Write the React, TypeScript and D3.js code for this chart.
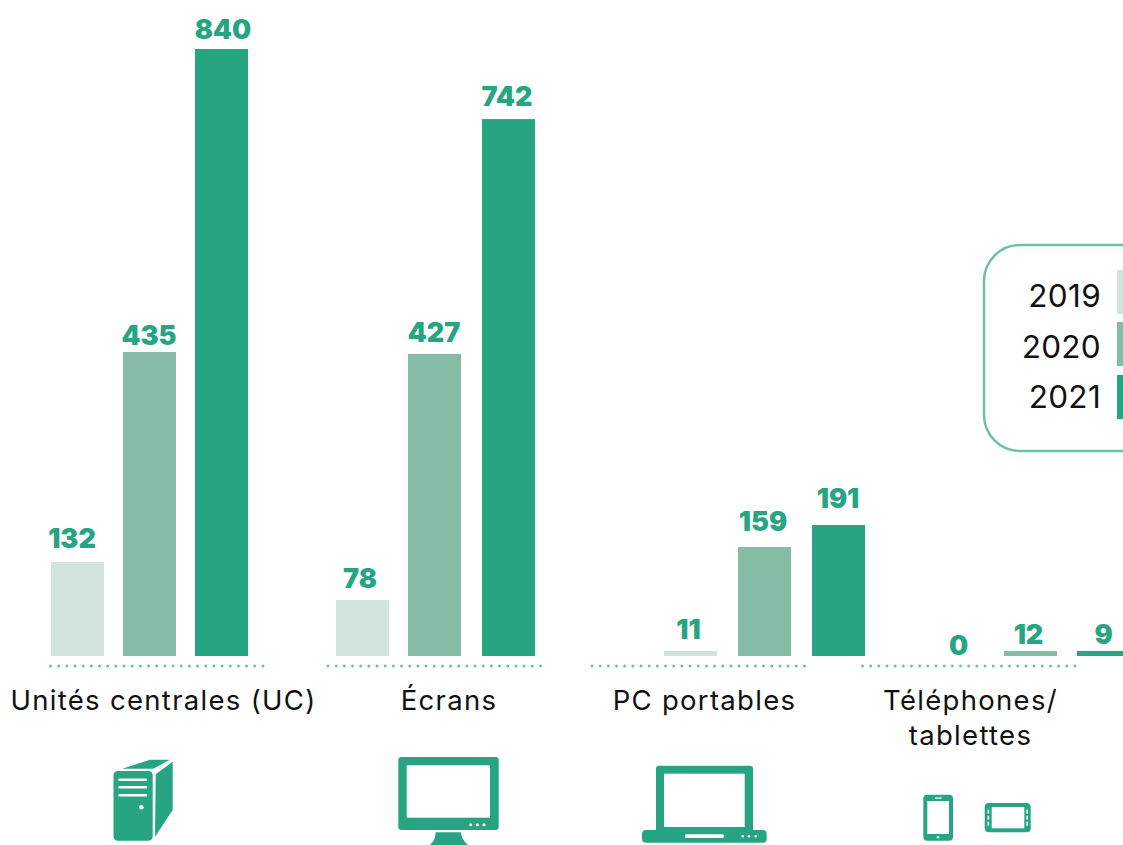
import React from "react";
import * as d3 from "d3";

// Data
const categories = ["Unités centrales (UC)", "Écrans", "PC portables", "Téléphones/tablettes"];
const years = ["2019", "2020", "2021"];
// Printed figures
const printed2019 = [132, 78, 11, 0];
const printed2020 = [435, 427, 159, 12];
const printed2021 = [840, 742, 191, 9];
// Bar lengths as drawn in the reference, in the chart's units (it is not strictly proportional to the printed figures)
const drawn2019 = [130, 77.5, 7, 0];
const drawn2020 = [420.7, 418, 150.8, 7];
const drawn2021 = [840, 743, 181.3, 7];

// Layout
const W = 1123, H = 845;
const GREEN = "#27a582", MID = "#84bca6", PALE = "#d0e3dc", DOT = "#6cc2a8", INK = "#111111";
const colors = d3.scaleOrdinal<string, string>().domain(years).range([PALE, MID, GREEN]);
const y = d3.scaleLinear().domain([0, 840]).range([656, 49]);
const groupLeft = d3.scaleOrdinal<string, number>().domain(categories).range([51, 336, 664, 931]);
const seriesOffset = [[0, 72, 144], [0, 72, 146], [0, 74, 148], [0, 73, 146]];
const lineStart = d3.scaleOrdinal<string, number>().domain(categories).range([50.5, 328, 592, 862.5]);
const labelCenter = d3.scaleOrdinal<string, number>().domain(categories).range([163.5, 449, 704.5, 970.5]);
const labelLines = [["Unités centrales (UC)"], ["Écrans"], ["PC portables"], ["Téléphones/", "tablettes"]];
const BAR_W = 53, LINE_W = 215;
// Value-label nudges [dx, gap above bar], by year then category
const nudgeX = [[-5.5, -2.5, -2, 1], [-0.5, -0.5, -1.5, -2], [1.5, -1.5, -0.5, 0]];
const nudgeGap = [[14, 12, 12, 1], [7, 12, 16, 7], [10, 13, 17, 7]];
const legendTop = [270, 322, 375];
const legendBaseline = [307, 358, 408];

const FONT = "Inter, 'Open Sans', sans-serif";

const Tower = () => (
  <g fill={GREEN}>
    <rect x={113.5} y={771} width={39.2} height={69.7} rx={4.5} />
    <path d="M155.7,774.3L172.7,761.7V810L155,836.7Z" />
    <path d="M122.3,768.7L150,759.7H170L153.3,768.7Z" />
    {[779.7, 787.3, 795.3].map((v) => (
      <rect key={v} x={118.3} y={v - 1.3} width={28.7} height={2.6} rx={1.2} fill="#fff" />
    ))}
    <circle cx={141.3} cy={807.3} r={2.3} fill="#fff" />
  </g>
);
const Monitor = () => (
  <g fill={GREEN}>
    <rect x={398.3} y={757} width={100.4} height={73} rx={3} />
    <rect x={406.7} y={765.3} width={83.3} height={52.4} fill="#fff" />
    {[470.7, 477.3, 484].map((v) => <circle key={v} cx={v} cy={824.7} r={1.5} fill="#fff" />)}
    <path d="M435.7,832.3H461Q461.5,840 468,845H430Q435.5,840 435.7,832.3Z" />
  </g>
);
const Laptop = () => (
  <g fill={GREEN}>
    <rect x={656} y={765.7} width={97} height={68} rx={3} />
    <rect x={664} y={773.7} width={80.7} height={53.3} fill="#fff" />
    <rect x={642} y={830} width={124.7} height={12.7} rx={4} />
    <rect x={685} y={834.3} width={38.7} height={3.7} rx={1} fill="#fff" />
    {[742.7, 749, 755.7].map((v) => <circle key={v} cx={v} cy={836.3} r={1.3} fill="#fff" />)}
  </g>
);
const Phone = () => (
  <g fill={GREEN}>
    <rect x={923.3} y={794.7} width={29.7} height={46} rx={4} />
    <rect x={927.3} y={801} width={21.7} height={33} fill="#fff" />
    <rect x={935} y={797.5} width={6.7} height={1.2} fill="#fff" />
    <circle cx={938} cy={837.2} r={1.3} fill="#fff" />
  </g>
);
const Tablet = () => (
  <g fill={GREEN}>
    <rect x={984.7} y={803} width={46} height={29.3} rx={4} />
    <rect x={991.7} y={807} width={32.6} height={21.3} fill="#fff" />
    {[811.7, 817.7, 823.7].map((v) => (
      <g key={v} fill="#fff" opacity={0.85}>
        <rect x={987.4} y={v - 2} width={1.8} height={4} />
        <rect x={1026.2} y={v - 2} width={1.8} height={4} />
      </g>
    ))}
  </g>
);

export default function App() {
  const printed = [printed2019, printed2020, printed2021];
  const drawn = [drawn2019, drawn2020, drawn2021];
  const base = y(0);
  return (
    <svg width={W} height={H} viewBox={`0 0 ${W} ${H}`} style={{ position: "absolute", left: 0, top: 0, background: "#fff" }}>
      {/* dotted baselines */}
      {categories.map((c) => (
        <line key={c} x1={lineStart(c)} x2={lineStart(c) + LINE_W} y1={666} y2={666}
          stroke={DOT} strokeWidth={3} strokeLinecap="round" strokeDasharray="0 8.17" />
      ))}
      {/* bars and value labels */}
      {years.map((yr, s) =>
        categories.map((c, i) => {
          const x = groupLeft(c) + seriesOffset[i][s];
          const top = y(drawn[s][i]);
          return (
            <g key={yr + c}>
              {drawn[s][i] > 0 && <rect x={x} y={top} width={BAR_W} height={base - top} fill={colors(yr)} />}
              <text x={x + BAR_W / 2 + nudgeX[s][i]} y={top - nudgeGap[s][i]} textAnchor="middle"
                fontFamily={FONT} fontWeight={900} fontSize={27} fill={GREEN}>
                {printed[s][i]}
              </text>
            </g>
          );
        })
      )}
      {/* category labels */}
      {categories.map((c, i) => (
        <text key={c} textAnchor="middle" fontFamily={FONT} fontSize={27.5} fill={INK} letterSpacing={1.3}>
          {labelLines[i].map((t, k) => (
            <tspan key={t} x={labelCenter(c)} y={710 + k * 35}>{t}</tspan>
          ))}
        </text>
      ))}
      {/* legend */}
      <rect x={984} y={245} width={200} height={206} rx={36} fill="#fff" stroke={DOT} strokeWidth={2.5} />
      {years.map((yr, s) => (
        <g key={yr}>
          <rect x={1117} y={legendTop[s]} width={20} height={44} fill={colors(yr)} />
          <text x={1101} y={legendBaseline[s]} textAnchor="end" fontFamily={FONT} fontSize={31.5} letterSpacing={0.3} fill={INK}>{yr}</text>
        </g>
      ))}
      <Tower />
      <Monitor />
      <Laptop />
      <Phone />
      <Tablet />
    </svg>
  );
}
